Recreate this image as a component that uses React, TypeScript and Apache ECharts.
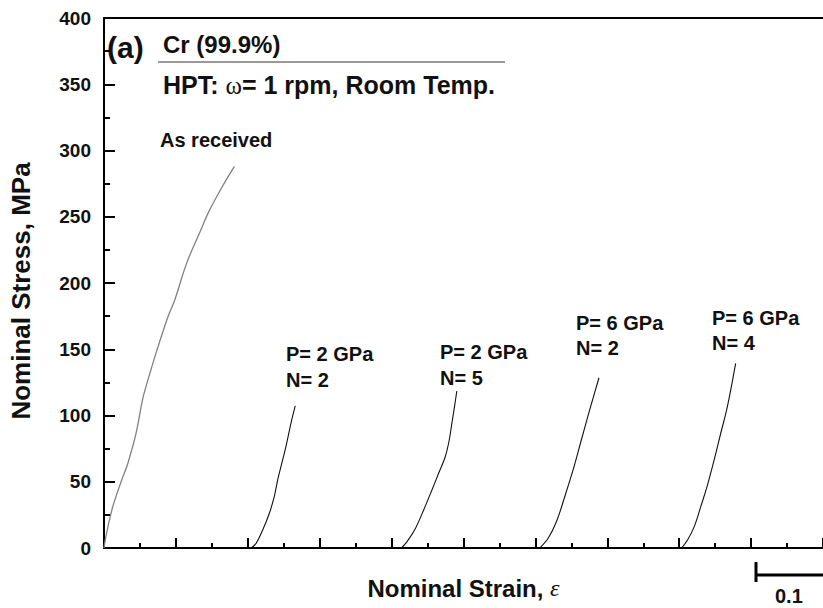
import React, { useEffect, useRef } from "react";
import * as echarts from "echarts";

// Stress–strain curves of HPT-processed Cr (curves offset along strain axis)
const asReceivedStrain = [0, 0.0035, 0.0121, 0.0244, 0.0332, 0.0448, 0.0536, 0.0601, 0.0734, 0.0886, 0.0983, 0.115, 0.133, 0.1468, 0.1648, 0.1814];
const asReceivedStress = [0, 11, 31, 51, 64, 87, 112, 125, 149, 174, 187, 215, 238, 255, 273, 288];

const p2n2Strain = [0.2046, 0.2115, 0.2207, 0.23, 0.2368, 0.2415, 0.2461, 0.253, 0.26, 0.266];
const p2n2Stress = [0, 3.5, 13.6, 26.2, 38.7, 51.3, 61.4, 76.5, 94.1, 107.2];

const p2n5Strain = [0.4137, 0.4215, 0.4331, 0.4446, 0.4561, 0.4654, 0.4746, 0.4802, 0.4838, 0.4875, 0.4907];
const p2n5Stress = [0, 4.8, 14.8, 28.7, 43.8, 56.4, 68.9, 81.5, 94.1, 106.7, 118.5];

const p6n2Strain = [0.6062, 0.6177, 0.6292, 0.6408, 0.6524, 0.6639, 0.6755, 0.6884];
const p6n2Stress = [0, 7.3, 19.8, 38.7, 58.9, 81.5, 104.2, 128.5];

const p6n4Strain = [0.8033, 0.8116, 0.8209, 0.83, 0.8393, 0.8486, 0.8578, 0.867, 0.8785];
const p6n4Stress = [0, 6, 16.1, 31.2, 47.5, 66.4, 86.6, 106.7, 139.4];

const yTicks = { min: 0, max: 400, interval: 50 };
const xTicks = { min: 0, max: 1.0, interval: 0.1 };

const FONT = "'Liberation Sans', Arial, sans-serif";

function zip(xs: number[], ys: number[]) {
  return xs.map((x, i) => [x, ys[i]]);
}

function label(text: string, x: number, y: number, size = 20) {
  return {
    type: "text",
    style: {
      text,
      x,
      y,
      fill: "#111",
      font: `bold ${size}px ${FONT}`,
      textAlign: "left",
      textVerticalAlign: "middle",
    },
  };
}

export default function App() {
  const ref = useRef<HTMLDivElement>(null);

  useEffect(() => {
    if (!ref.current) return;
    const chart = echarts.init(ref.current, null, { renderer: "svg" });

    const curve = (name: string, xs: number[], ys: number[], color: string, width: number) => ({
      name,
      type: "line",
      data: zip(xs, ys),
      showSymbol: false,
      smooth: 0.35,
      lineStyle: { color, width },
      xAxisIndex: 0,
      yAxisIndex: 0,
    });

    chart.setOption({
      animation: false,
      backgroundColor: "#fff",
      grid: { left: 104, top: 18, width: 722, height: 530 },
      xAxis: [
        {
          type: "value",
          min: xTicks.min,
          max: xTicks.max,
          interval: xTicks.interval,
          name: "Nominal Strain, {e|ε}",
          nameLocation: "middle",
          nameGap: 28,
          nameTextStyle: {
            fontFamily: FONT,
            fontWeight: "bold",
            fontSize: 24,
            color: "#111",
            rich: {
              e: { fontFamily: "'Liberation Serif', serif", fontStyle: "italic", fontWeight: "normal", fontSize: 24, color: "#111" },
            },
          },
          axisLine: { show: true, onZero: false, lineStyle: { color: "#000", width: 2 } },
          axisTick: { show: true, inside: true, length: 10, lineStyle: { color: "#000", width: 2 } },
          minorTick: { show: true, splitNumber: 2, length: 5, lineStyle: { color: "#000", width: 2 } },
          axisLabel: { show: false },
          splitLine: { show: false },
        },
        {
          type: "value",
          position: "top",
          min: xTicks.min,
          max: xTicks.max,
          axisLine: { show: true, onZero: false, lineStyle: { color: "#000", width: 2 } },
          axisTick: { show: false },
          axisLabel: { show: false },
          splitLine: { show: false },
        },
      ],
      yAxis: {
        type: "value",
        min: yTicks.min,
        max: yTicks.max,
        interval: yTicks.interval,
        name: "Nominal Stress, MPa",
        nameLocation: "middle",
        nameGap: 70,
        nameTextStyle: { fontFamily: FONT, fontWeight: "bold", fontSize: 26, color: "#111", padding: [0, 16, 0, 0] },
        axisLine: { show: true, onZero: false, lineStyle: { color: "#000", width: 2 } },
        axisTick: { show: true, inside: true, length: 11, lineStyle: { color: "#000", width: 2 } },
        minorTick: { show: true, splitNumber: 2, length: 6, lineStyle: { color: "#000", width: 2 } },
        axisLabel: { fontFamily: FONT, fontWeight: "bold", fontSize: 19, color: "#111", margin: 13 },
        splitLine: { show: false },
      },
      series: [
        curve("As received", asReceivedStrain, asReceivedStress, "#808080", 1.3),
        curve("P= 2 GPa, N= 2", p2n2Strain, p2n2Stress, "#111", 1.1),
        curve("P= 2 GPa, N= 5", p2n5Strain, p2n5Stress, "#111", 1.1),
        curve("P= 6 GPa, N= 2", p6n2Strain, p6n2Stress, "#111", 1.1),
        curve("P= 6 GPa, N= 4", p6n4Strain, p6n4Stress, "#111", 1.1),
      ],
      graphic: [
        label("(a)", 107, 47, 30),
        label("Cr (99.9%)", 163, 44, 24),
        {
          type: "line",
          shape: { x1: 158, y1: 62, x2: 505, y2: 62 },
          style: { stroke: "#333", lineWidth: 1 },
        },
        {
          type: "text",
          style: {
            text: "{b|HPT: }{w|ω}{b|= 1 rpm, Room Temp.}",
            x: 163,
            y: 85,
            textAlign: "left",
            textVerticalAlign: "middle",
            rich: {
              b: { font: `bold 25px ${FONT}`, fill: "#111" },
              w: { font: `25px 'Liberation Serif', serif`, fill: "#111" },
            },
          },
        },
        label("As received", 160, 140),
        label("P= 2 GPa", 286, 354),
        label("N= 2", 286, 380),
        label("P= 2 GPa", 440, 352),
        label("N= 5", 440, 378),
        label("P= 6 GPa", 576, 323),
        label("N= 2", 576, 348),
        label("P= 6 GPa", 712, 318),
        label("N= 4", 712, 343),
        // 0.1 strain scale bar
        {
          type: "line",
          shape: { x1: 756, y1: 562, x2: 756, y2: 582 },
          style: { stroke: "#000", lineWidth: 3 },
        },
        {
          type: "line",
          shape: { x1: 756, y1: 575, x2: 828, y2: 575 },
          style: { stroke: "#000", lineWidth: 3 },
        },
        label("0.1", 775, 596, 20),
      ],
    });

    return () => chart.dispose();
  }, []);

  return (
    <div
      ref={ref}
      style={{ position: "absolute", left: 0, top: 0, width: 823, height: 608 }}
    />
  );
}
